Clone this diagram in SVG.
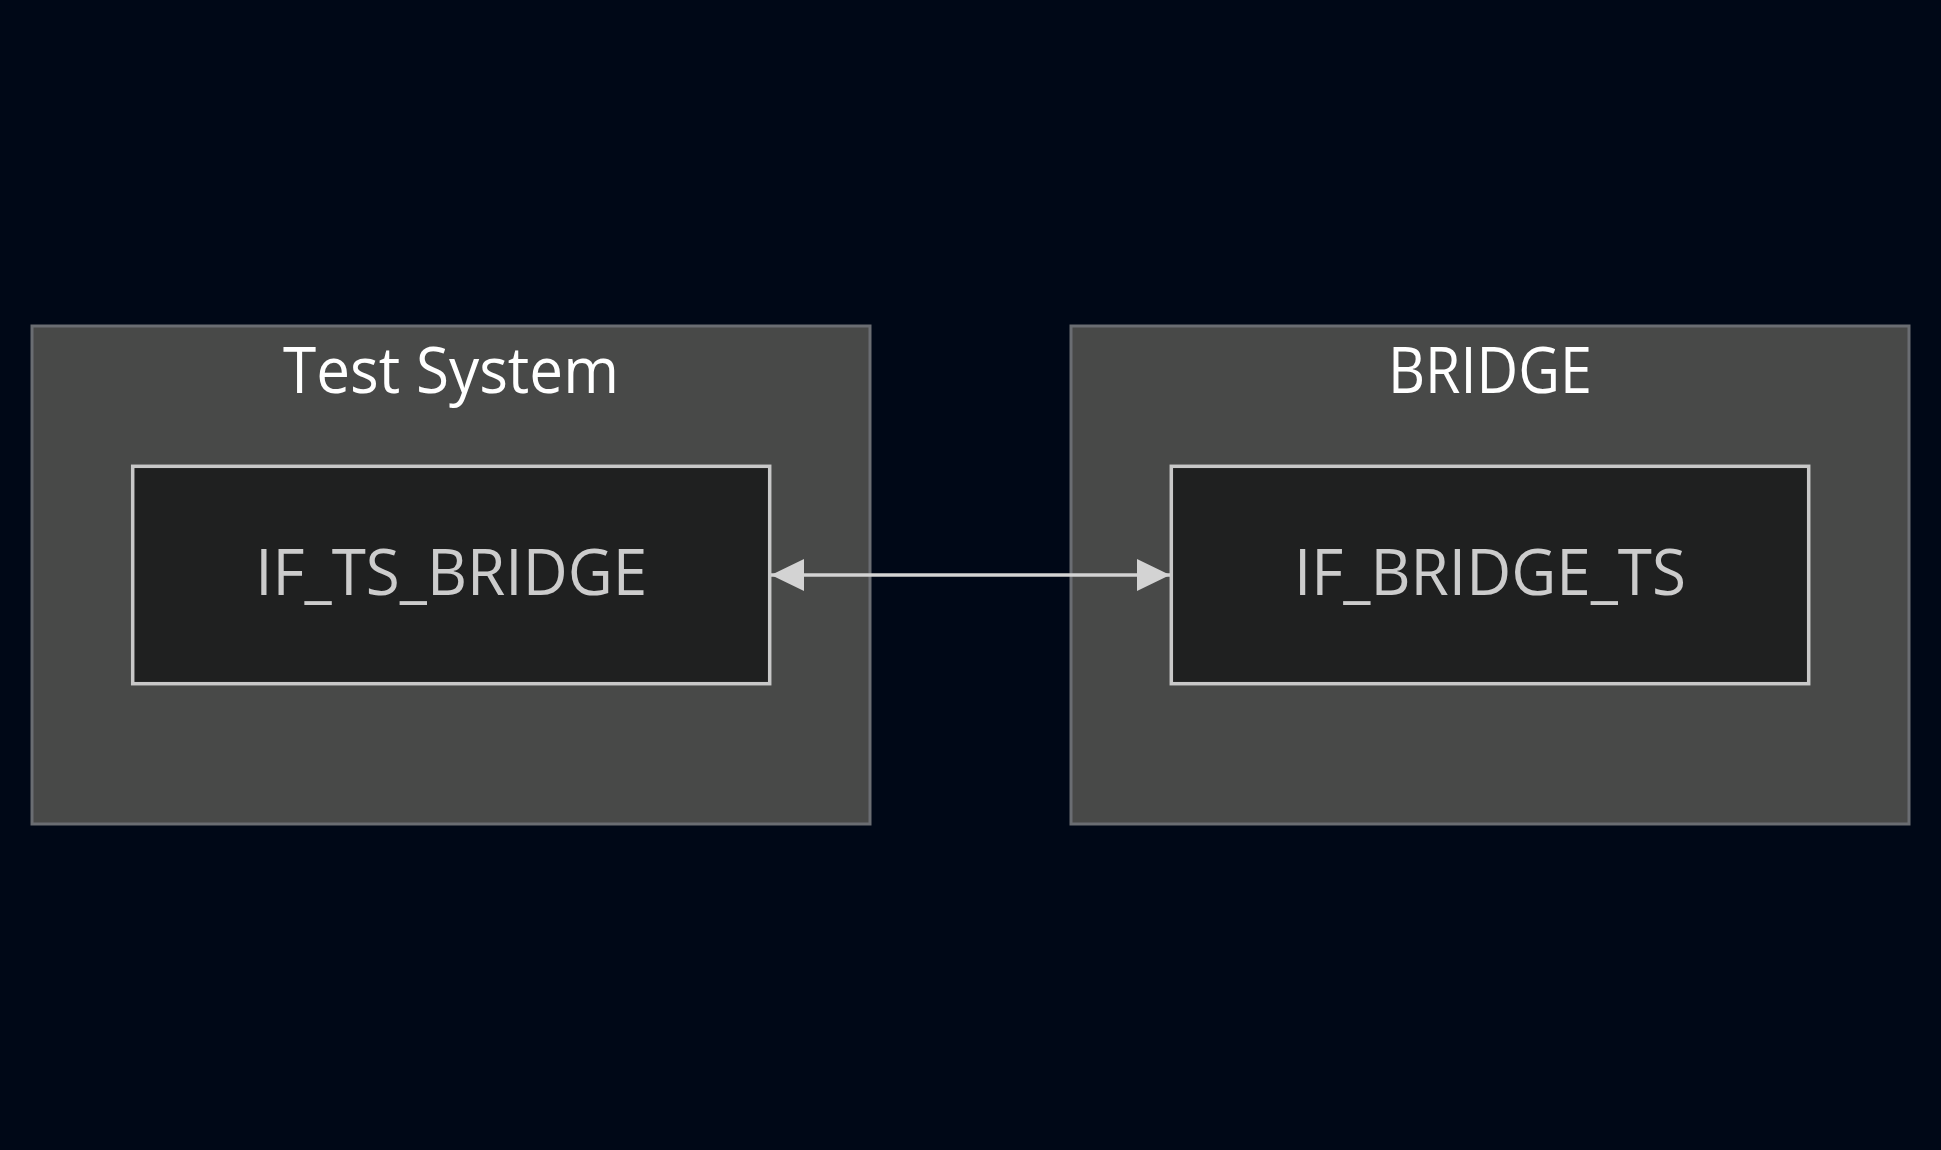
<svg xmlns="http://www.w3.org/2000/svg" width="1941" height="1150" viewBox="0 0 1941 1150">
<defs>
<style>
.cluster{fill:#484948;stroke:#6a6d72;stroke-width:3}
.node{fill:#1f2020;stroke:#c8c8c8;stroke-width:3.5}
.title{font-family:"Open Sans","DejaVu Sans",sans-serif;font-size:64px;fill:#ffffff;text-anchor:middle}
.label{font-family:"Open Sans","DejaVu Sans",sans-serif;font-size:64px;fill:#cccccc;text-anchor:middle}
.edge{stroke:#d3d3d3;stroke-width:3.5;fill:none}
</style>
<marker id="arrowEnd" viewBox="0 0 33 32" refX="33" refY="16" markerWidth="33" markerHeight="32" markerUnits="userSpaceOnUse" orient="auto">
<path d="M0,0 L33,16 L0,32 Z" fill="#d3d3d3"/>
</marker>
<marker id="arrowStart" viewBox="0 0 33 32" refX="0" refY="16" markerWidth="33" markerHeight="32" markerUnits="userSpaceOnUse" orient="auto">
<path d="M33,0 L0,16 L33,32 Z" fill="#d3d3d3"/>
</marker>
</defs>
<rect x="0" y="0" width="1941" height="1150" fill="#000817"/>
<g id="cluster-test-system">
<rect class="cluster" x="32" y="326" width="838" height="498"/>
<text class="title" x="451" y="393" textLength="336" lengthAdjust="spacingAndGlyphs">Test System</text>
</g>
<g id="cluster-bridge">
<rect class="cluster" x="1071" y="326" width="838" height="498"/>
<text class="title" x="1490" y="393" textLength="204" lengthAdjust="spacingAndGlyphs">BRIDGE</text>
</g>
<g id="node-IF_TS_BRIDGE">
<rect class="node" x="132.7" y="466.3" width="637" height="217.4"/>
<text class="label" x="451.2" y="595" textLength="392" lengthAdjust="spacingAndGlyphs">IF_TS_BRIDGE</text>
</g>
<g id="node-IF_BRIDGE_TS">
<rect class="node" x="1171.3" y="466.3" width="637.4" height="217.4"/>
<text class="label" x="1490" y="595" textLength="392" lengthAdjust="spacingAndGlyphs">IF_BRIDGE_TS</text>
</g>
<g id="connectors">
<line class="edge" x1="771" y1="575" x2="1170" y2="575" marker-start="url(#arrowStart)" marker-end="url(#arrowEnd)"/>
</g>
</svg>
